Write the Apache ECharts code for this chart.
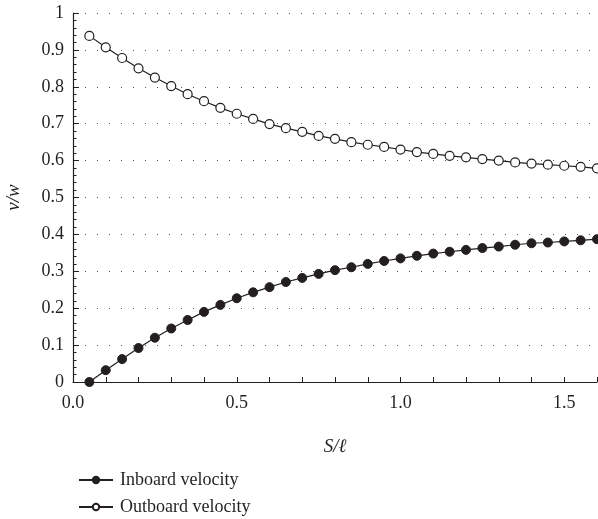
<!DOCTYPE html>
<html>
<head>
<meta charset="utf-8">
<script src="https://cdn.jsdelivr.net/npm/echarts@6/dist/echarts.min.js"></script>
<style>
  html, body { margin: 0; padding: 0; background: #fff; }
  #chart { width: 598px; height: 519px; }
</style>
</head>
<body>
<div id="chart"></div>
<script>
// S/ℓ 取值
var sValues = [0.05, 0.10, 0.15, 0.20, 0.25, 0.30, 0.35, 0.40, 0.45, 0.50, 0.55, 0.60, 0.65, 0.70, 0.75, 0.80,
               0.85, 0.90, 0.95, 1.00, 1.05, 1.10, 1.15, 1.20, 1.25, 1.30, 1.35, 1.40, 1.45, 1.50, 1.55, 1.60];
// 内侧速度 v/w
var inboard = [0.000, 0.032, 0.062, 0.092, 0.120, 0.145, 0.168, 0.190, 0.209, 0.227, 0.243, 0.257, 0.271, 0.282, 0.293, 0.303,
               0.311, 0.320, 0.328, 0.335, 0.342, 0.348, 0.353, 0.358, 0.363, 0.367, 0.372, 0.376, 0.378, 0.381, 0.384, 0.387];
// 外侧速度 v/w
var outboard = [0.938, 0.907, 0.878, 0.850, 0.825, 0.802, 0.780, 0.761, 0.743, 0.727, 0.713, 0.699, 0.688, 0.678, 0.667, 0.659,
                0.650, 0.643, 0.637, 0.630, 0.623, 0.618, 0.613, 0.609, 0.604, 0.600, 0.595, 0.592, 0.589, 0.586, 0.583, 0.579];
var seriesNames = ['Inboard velocity', 'Outboard velocity'];

function pairs(ys) {
    return sValues.map(function (s, i) { return [s, ys[i]]; });
}

var font = 'Liberation Serif';
var ink = '#231f20';

// 图例: 每行一个
function legendRow(name, top) {
    return {
        left: 73,
        top: top,
        itemWidth: 34,
        itemHeight: 8,
        itemGap: 10,
        textStyle: { fontFamily: font, fontSize: 18, color: ink, padding: [0, 0, 0, 2] },
        data: [name]
    };
}

var chart = echarts.init(document.getElementById('chart'));

var option = {
    animation: false,
    textStyle: { fontFamily: font, color: ink },
    grid: { left: 73, right: 1, top: 13, bottom: 137, outerBoundsMode: 'none' },
    legend: [legendRow(seriesNames[0], 466), legendRow(seriesNames[1], 493)],
    xAxis: {
        type: 'value',
        min: 0,
        max: 1.6,
        interval: 0.1,
        name: 'S/ℓ',
        nameLocation: 'middle',
        nameGap: 55,
        nameTextStyle: { fontFamily: font, fontSize: 19, fontStyle: 'italic', color: ink },
        axisLine: { lineStyle: { color: ink, width: 1.2 } },
        axisTick: { inside: true, length: 5, lineStyle: { color: ink } },
        axisLabel: {
            fontSize: 18,
            color: ink,
            margin: 12,
            formatter: function (v) {
                var k = Math.round(v * 10);
                return (k % 5 === 0 && k < 16) ? (k / 10).toFixed(1) : '';
            }
        },
        splitLine: { show: false }
    },
    yAxis: {
        type: 'value',
        min: 0,
        max: 1,
        interval: 0.1,
        name: 'v/w',
        nameLocation: 'middle',
        nameGap: 50,
        nameTextStyle: { fontFamily: font, fontSize: 19, fontStyle: 'italic', color: ink },
        axisLine: { show: true, lineStyle: { color: ink, width: 1.2 } },
        axisTick: { show: true, inside: true, length: 6, lineStyle: { color: ink } },
        minorTick: { show: true, splitNumber: 5, length: 3.5, lineStyle: { color: ink } },
        axisLabel: { fontSize: 18, color: ink, margin: 9 },
        splitLine: { show: true, lineStyle: { color: '#555', width: 1, type: [1, 11] } }
    },
    series: [
        {
            name: seriesNames[0],
            type: 'line',
            data: pairs(inboard),
            symbol: 'circle',
            symbolSize: 9,
            itemStyle: { color: ink, borderColor: ink, borderWidth: 1 },
            lineStyle: { color: ink, width: 1.2 }
        },
        {
            name: seriesNames[1],
            type: 'line',
            data: pairs(outboard),
            symbol: 'circle',
            symbolSize: 9,
            itemStyle: { color: '#fff', borderColor: ink, borderWidth: 1.2 },
            lineStyle: { color: ink, width: 1.2 }
        }
    ]
};

chart.setOption(option);
</script>
</body>
</html>
